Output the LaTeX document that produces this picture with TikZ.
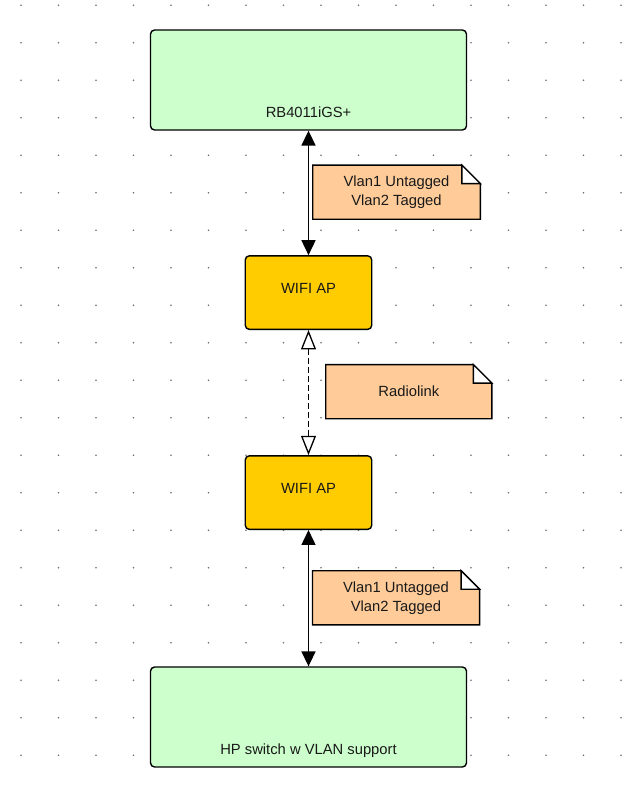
\documentclass[tikz,border=0pt]{standalone}
\usepackage{fontspec}
\setmainfont{Liberation Sans}
\usepackage{tikz}
\usetikzlibrary{arrows.meta, positioning, backgrounds}
\definecolor{routergreen}{RGB}{204, 255, 204}
\definecolor{apgold}{RGB}{255, 204, 0}
\definecolor{notepeach}{RGB}{255, 204, 153}
\definecolor{griddot}{RGB}{110, 110, 110}
\definecolor{inktext}{RGB}{25, 25, 25}

\tikzset{
    devbox/.style={draw, rounded corners=2.3pt, line width=0.8pt, inner sep=0pt,
        text=inktext, font=\fontsize{8.4}{10.8}\selectfont},
    greenbox/.style={devbox, fill=routergreen, minimum width=6.32cm, minimum height=2cm,
        text height=1.75cm, text depth=0.25cm},
    apbox/.style={devbox, fill=apgold, minimum width=2.53cm, minimum height=1.47cm,
        text depth=4.6pt},
    notebox/.style={inner sep=0pt, minimum width=3.34cm, minimum height=1.07cm, align=center,
        text=inktext, font=\fontsize{8.4}{10.8}\selectfont},
    wired/.style={line width=0.75pt,
        {Triangle[length=8.5pt, width=8pt]}-{Triangle[length=8.5pt, width=8pt]}},
    wireless/.style={line width=0.75pt, dash pattern=on 3.4pt off 1.7pt,
        {Triangle[open, length=11pt, width=8.5pt]}-{Triangle[open, length=11pt, width=8.5pt]}}
}

\begin{document}
\begin{tikzpicture}[x=0.02cm, y=-0.02cm]
    \useasboundingbox (0,0) rectangle (625,790);

    % Devices
    \node[greenbox] (rb) at (308.5,80) {RB4011iGS+};
    \node[apbox] (apup) at (308.5,292.6) {WIFI AP};
    \node[apbox] (apdown) at (308.5,492.6) {WIFI AP};
    \node[greenbox] (hpswitch) at (308.5,717) {HP switch w VLAN support};

    % Notes
    \node[notebox] (vlanup) at (396.5,192.2) {Vlan1 Untagged\\Vlan2 Tagged};
    \node[notebox, minimum width=3.31cm] (radiolink) at (408.8,391.7) {Radiolink};
    \node[notebox, minimum width=3.33cm] (vlandown) at (396,597.8) {Vlan1 Untagged\\Vlan2 Tagged};

    % Links
    \draw[wired] (rb.south) -- (apup.north);
    \draw[wireless] (apup.south) -- (apdown.north);
    \draw[wired] (apdown.south) -- (hpswitch.north);

    \begin{scope}[on background layer]
        \fill[white] (0,0) rectangle (625,790);
        % Dot grid
        \foreach \i in {0,...,16} {
            \foreach \j in {0,...,20} {
                \fill[griddot] ({21+37.5*\i},{5.3+37.5*\j}) circle[radius=0.5pt];
            }
        }
        % Note outlines with folded corner
        \foreach \n in {vlanup, radiolink, vlandown} {
            \filldraw[fill=notepeach, line width=0.75pt]
                (\n.north west) -- ([xshift=-0.37cm]\n.north east)
                -- ([yshift=-0.37cm]\n.north east) -- (\n.south east)
                -- (\n.south west) -- cycle;
            \filldraw[fill=white, line width=0.75pt]
                ([xshift=-0.37cm]\n.north east) -- ([xshift=-0.37cm, yshift=-0.37cm]\n.north east)
                -- ([yshift=-0.37cm]\n.north east) -- cycle;
        }
    \end{scope}
\end{tikzpicture}
\end{document}
